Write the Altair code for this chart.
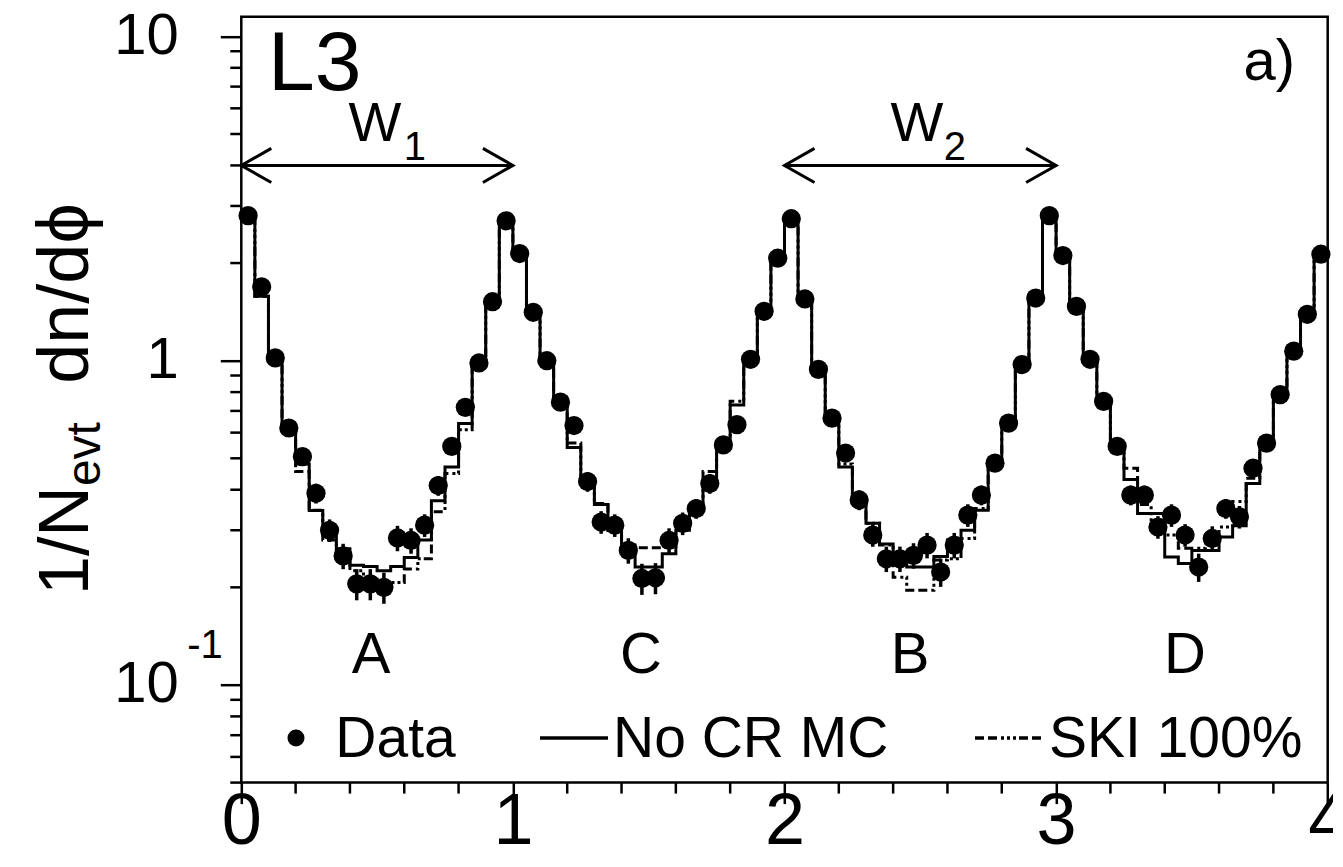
import altair as alt
import pandas as pd

FONT = "Liberation Sans"
W, H = 1086.4, 765.9

# ---- bins in phi (80 bins of width 0.05 from 0 to 4) ----
n_bins = 80
bin_width = 0.05
phi_lo = [round(k * bin_width, 4) for k in range(n_bins)]
phi_mid = [round(x + bin_width / 2, 4) for x in phi_lo]
phi_edges = phi_lo + [4.0]

# ---- Data points ----
data_vals = [
    2.80, 1.69, 1.02, 0.62, 0.506, 0.39, 0.30, 0.25, 0.205, 0.205,
    0.200, 0.284, 0.279, 0.311, 0.412, 0.544, 0.718, 0.984, 1.52, 2.70,
    2.14, 1.41, 1.00, 0.745, 0.631, 0.424, 0.318, 0.311, 0.26, 0.213,
    0.214, 0.279, 0.315, 0.35, 0.418, 0.55, 0.635, 1.01, 1.42, 2.07,
    2.74, 1.55, 0.94, 0.665, 0.519, 0.372, 0.29, 0.245, 0.245, 0.251,
    0.27, 0.223, 0.27, 0.334, 0.385, 0.483, 0.642, 0.973, 1.56, 2.80,
    2.11, 1.47, 1.01, 0.749, 0.544, 0.385, 0.385, 0.307, 0.334, 0.29,
    0.231, 0.283, 0.35, 0.33, 0.466, 0.557, 0.786, 1.07, 1.39, 2.13,
]
# relative statistical errors of the data points
data_err = [
    0.02, 0.03, 0.03, 0.05, 0.05, 0.07, 0.08, 0.09, 0.11, 0.11,
    0.11, 0.09, 0.09, 0.08, 0.07, 0.05, 0.05, 0.04, 0.03, 0.02,
    0.02, 0.03, 0.04, 0.05, 0.05, 0.07, 0.08, 0.08, 0.09, 0.11,
    0.11, 0.09, 0.08, 0.07, 0.07, 0.05, 0.05, 0.04, 0.03, 0.02,
    0.02, 0.03, 0.04, 0.05, 0.05, 0.07, 0.08, 0.09, 0.09, 0.09,
    0.09, 0.10, 0.09, 0.08, 0.07, 0.06, 0.05, 0.04, 0.03, 0.02,
    0.02, 0.03, 0.04, 0.05, 0.05, 0.07, 0.07, 0.08, 0.08, 0.08,
    0.10, 0.09, 0.07, 0.08, 0.06, 0.05, 0.04, 0.04, 0.03, 0.02,
]
# ---- No CR MC (solid histogram) ----
nocr_vals = [
    2.78, 1.58, 1.00, 0.62, 0.48, 0.345, 0.29, 0.263, 0.234, 0.232,
    0.225, 0.232, 0.247, 0.28, 0.37, 0.47, 0.64, 0.98, 1.50, 2.70,
    2.10, 1.40, 1.00, 0.74, 0.54, 0.43, 0.36, 0.30, 0.27, 0.231,
    0.231, 0.254, 0.30, 0.35, 0.42, 0.55, 0.73, 1.00, 1.45, 2.05,
    2.75, 1.55, 0.94, 0.66, 0.47, 0.37, 0.315, 0.272, 0.24, 0.231,
    0.231, 0.249, 0.28, 0.30, 0.346, 0.48, 0.64, 0.97, 1.56, 2.75,
    2.10, 1.46, 1.00, 0.75, 0.54, 0.43, 0.338, 0.338, 0.248, 0.237,
    0.26, 0.26, 0.286, 0.31, 0.418, 0.55, 0.78, 1.06, 1.39, 2.10,
]
# ---- SKI 100% (dash-dotted histogram) ----
ski_vals = [
    2.78, 1.58, 1.00, 0.62, 0.455, 0.346, 0.28, 0.255, 0.225, 0.215,
    0.207, 0.207, 0.228, 0.245, 0.342, 0.449, 0.612, 0.98, 1.50, 2.70,
    2.10, 1.40, 1.00, 0.74, 0.557, 0.43, 0.363, 0.30, 0.27, 0.265,
    0.265, 0.267, 0.30, 0.35, 0.455, 0.55, 0.75, 1.00, 1.45, 2.05,
    2.75, 1.55, 0.94, 0.66, 0.48, 0.37, 0.315, 0.27, 0.215, 0.196,
    0.196, 0.243, 0.245, 0.283, 0.35, 0.48, 0.64, 0.97, 1.56, 2.75,
    2.10, 1.46, 1.00, 0.75, 0.54, 0.466, 0.36, 0.307, 0.29, 0.264,
    0.264, 0.29, 0.307, 0.368, 0.434, 0.55, 0.78, 1.06, 1.39, 2.10,
]

# ---- axis ticks ----
x_major = [0, 1, 2, 3, 4]
x_minor = [0.2, 0.4, 0.6, 0.8, 1.2, 1.4, 1.6, 1.8, 2.2, 2.4, 2.6, 2.8,
           3.2, 3.4, 3.6, 3.8]
y_major = [0.1, 1, 10]
y_minor = [0.05, 0.06, 0.07, 0.08, 0.09, 0.2, 0.3, 0.4, 0.5, 0.6, 0.7,
           0.8, 0.9, 2, 3, 4, 5, 6, 7, 8, 9]

# ---- arrows W1, W2 ----
arrow_from = [0, 2]
arrow_to = [1, 3]
arrow_level = [4.0, 4.0]

pts = pd.DataFrame({
    "phi": phi_mid,
    "v": data_vals,
    "lo": [v * (1 - e) for v, e in zip(data_vals, data_err)],
    "hi": [v * (1 + e) for v, e in zip(data_vals, data_err)],
})
hist = pd.DataFrame({
    "phi": phi_edges,
    "nocr": nocr_vals + [nocr_vals[-1]],
    "ski": ski_vals + [ski_vals[-1]],
})
arrows = pd.DataFrame({"x1": arrow_from, "x2": arrow_to, "y": arrow_level})
one = pd.DataFrame({"k": [0]})

xs = alt.Scale(domain=[0, 4], nice=False, zero=False)
ys = alt.Scale(type="log", domain=[0.05, 11.5], nice=False)

xaxis = alt.Axis(values=x_major, format="d", title=None, labelFont=FONT,
                 labelFontSize=72, labelColor="black", tickSize=21,
                 tickWidth=2.5, tickColor="black", labelPadding=-17,
                 labelFlush=False, labelOverlap=False, grid=False,
                 domain=False)
yaxis = alt.Axis(values=y_major,
                 labelExpr="datum.value > 0.5 && datum.value < 2 ? '1' : '10'",
                 title=None, labelFont=FONT, labelFontSize=58,
                 labelColor="black", tickSize=21, tickWidth=2.5,
                 tickColor="black", labelPadding=42, labelOverlap=False,
                 labelFlush=False, grid=False, domain=False)

X = lambda f: alt.X(f, type="quantitative", scale=xs, axis=xaxis)
Y = lambda f: alt.Y(f, type="quantitative", scale=ys, axis=yaxis)

xminor = alt.Chart(pd.DataFrame({"t": x_minor})).mark_rule(
    color="black", strokeWidth=2.5).encode(
    x=X("t"), y=alt.value(H), y2=alt.value(H + 11))
yminor = alt.Chart(pd.DataFrame({"t": y_minor})).mark_rule(
    color="black", strokeWidth=2.5).encode(
    y=Y("t"), x=alt.value(-11), x2=alt.value(0))

DASH = [9, 4, 9, 4, 3, 3, 3, 3, 3, 3]
ski = alt.Chart(hist).mark_line(interpolate="step-after", color="black",
                                strokeWidth=3, strokeDash=DASH).encode(
    x=X("phi"), y=Y("ski"))
nocr = alt.Chart(hist).mark_line(interpolate="step-after", color="black",
                                 strokeWidth=3).encode(
    x=X("phi"), y=Y("nocr"))
errbars = alt.Chart(pts).mark_rule(color="black", strokeWidth=3.5).encode(
    x=X("phi"), y=Y("lo"), y2="hi")
dots = alt.Chart(pts).mark_circle(size=370, color="black", opacity=1).encode(
    x=X("phi"), y=Y("v"))

arrow_lines = alt.Chart(arrows).mark_rule(color="black", strokeWidth=3).encode(
    x=X("x1"), x2="x2", y=Y("y"))
heads_left = alt.Chart(arrows).mark_point(
    shape="M1,-0.57L0,0L1,0.57", filled=False, size=3600, strokeWidth=3,
    color="black", opacity=1).encode(x=X("x1"), y=Y("y"))
heads_right = alt.Chart(arrows).mark_point(
    shape="M-1,-0.57L0,0L-1,0.57", filled=False, size=3600, strokeWidth=3,
    color="black", opacity=1).encode(x=X("x2"), y=Y("y"))


def txt(t, x, y, size, align="center", baseline="alphabetic", angle=0):
    return alt.Chart(one).mark_text(
        text=t, font=FONT, fontSize=size, align=align, baseline=baseline,
        angle=angle, color="black").encode(x=alt.value(x), y=alt.value(y))


texts = [
    txt("L3", 26.7, 73.5, 84, align="left"),
    txt("a)", 1053.7, 63.3, 58, align="right"),
    txt("W", 133.7, 124.5, 56),
    txt("1", 173.7, 143.3, 40),
    txt("W", 675.7, 124.5, 56),
    txt("2", 713.7, 143.3, 40),
    txt("A", 129.7, 656.3, 58),
    txt("C", 399.7, 656.3, 58),
    txt("B", 668.7, 656.3, 58),
    txt("D", 943.7, 656.3, 58),
    txt("-1", -36.3, 629.3, 40, baseline="middle"),
    # y-axis title 1/N_evt dn/dphi
    txt("1/N", -153, 578.3, 70, align="left", angle=270),
    txt("evt", -141, 469.4, 48, align="left", angle=270),
    txt("dn/d\u03d5", -153, 367, 72, align="left", angle=270),
    # legend
    txt("Data", 94, 740.3, 57, align="left"),
    txt("No CR MC", 371.7, 740.3, 57, align="left"),
    txt("SKI 100%", 807.7, 740.3, 57, align="left"),
]

leg_dot = alt.Chart(one).mark_circle(size=290, color="black", opacity=1).encode(
    x=alt.value(54.7), y=alt.value(721.3))
leg_solid = alt.Chart(one).mark_rule(color="black", strokeWidth=3.5).encode(
    x=alt.value(298.7), x2=alt.value(366.7), y=alt.value(721.3))
leg_dash = alt.Chart(one).mark_rule(color="black", strokeWidth=3.5,
                                    strokeDash=DASH).encode(
    x=alt.value(733.7), x2=alt.value(801.7), y=alt.value(721.3))

chart = alt.layer(
    xminor, yminor, ski, nocr, errbars, dots,
    arrow_lines, heads_left, heads_right,
    leg_dot, leg_solid, leg_dash, *texts,
).properties(
    width=W, height=H,
    padding={"left": 233.3, "top": 8.7, "right": 5, "bottom": 76},
    autosize=alt.AutoSizeParams(type="none"),
    background="white",
).configure_view(stroke="black", strokeWidth=2.5)

chart.save("out.html", embed_options={"renderer": "svg", "actions": False})
